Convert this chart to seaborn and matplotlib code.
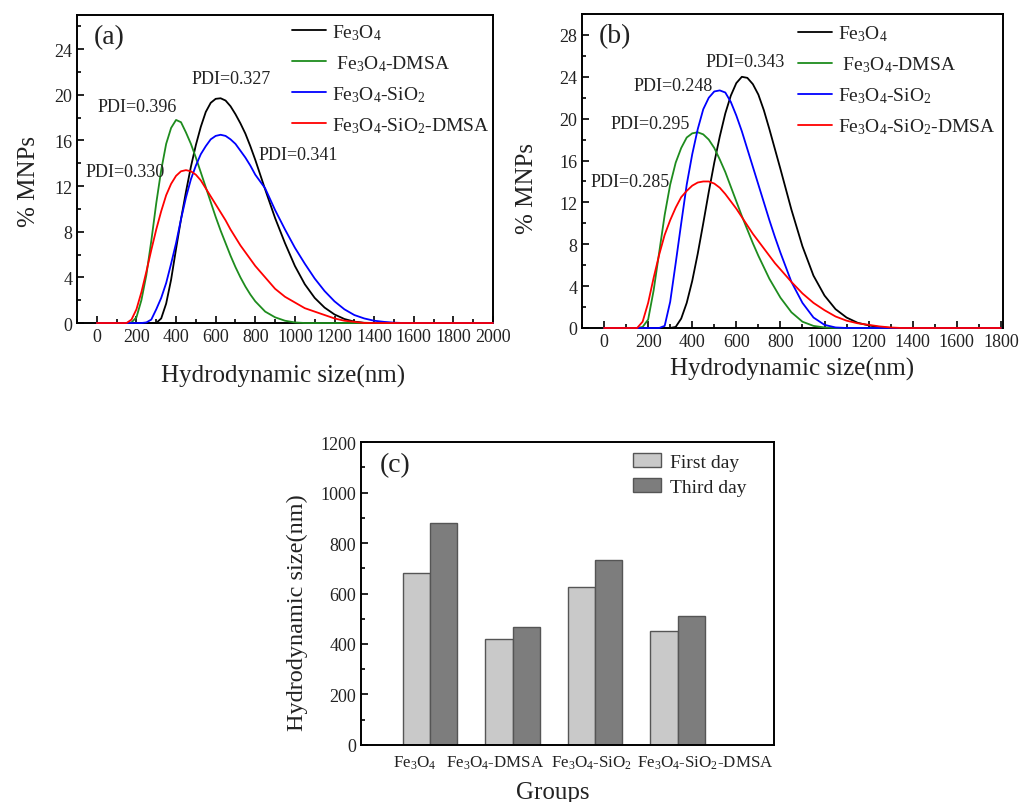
import pandas as pd
import matplotlib
matplotlib.use("Agg")
import matplotlib.pyplot as plt
import matplotlib.transforms as mtransforms
from matplotlib.ticker import MultipleLocator
import seaborn as sns

sns.set_style("ticks")
plt.rcParams["font.family"] = ["Liberation Serif", "DejaVu Serif"]
plt.rcParams["mathtext.default"] = "regular"
plt.rcParams["text.color"] = "#222222"
plt.rcParams["axes.labelcolor"] = "#222222"
plt.rcParams["xtick.color"] = "black"
plt.rcParams["ytick.color"] = "black"
plt.rcParams["xtick.labelcolor"] = "#222222"
plt.rcParams["ytick.labelcolor"] = "#222222"

SAMPLES = ["Fe$_3$O$_4$", " Fe$_3$O$_4$-DMSA", "Fe$_3$O$_4$-SiO$_2$", "Fe$_3$O$_4$-SiO$_2$-DMSA"]
COLORS = ["#000000", "#1e8c1e", "#0000ff", "#ff0000"]

# panel (a): size distributions, first day
X_A = [0, 150, 175, 200, 225, 250, 275, 300,
       325, 350, 375, 400, 425, 450, 475, 500,
       525, 550, 575, 600, 625, 650, 675, 700,
       725, 750, 775, 800,
       850, 900, 950, 1000, 1050, 1100, 1150, 1200,
       1250, 1300, 1350, 1400, 1450, 1500, 1550, 1600,
       2000]
A_FE3O4 = [0, 0, 0, 0, 0, 0, 0, 0,
           0.4, 1.7, 3.8, 6.5, 9.1, 11.5, 13.7, 15.6,
           17.2, 18.5, 19.3, 19.65, 19.7, 19.5, 19.0, 18.3,
           17.5, 16.6, 15.5, 14.3,
           11.7, 9.2, 7.0, 5.0, 3.4, 2.2, 1.35, 0.75,
           0.35, 0.12, 0.02, 0, 0, 0, 0, 0,
           0]
A_DMSA = [0, 0, 0.05, 0.5, 2.0, 4.2, 7.2, 10.5,
          13.4, 15.7, 17.1, 17.8, 17.6, 16.7, 15.7, 14.5,
          13.2, 11.9, 10.6, 9.3, 8.1, 7.0, 5.9, 4.9,
          4.0, 3.2, 2.5, 1.9,
          1.0, 0.5, 0.2, 0.05, 0, 0, 0, 0,
          0, 0, 0, 0, 0, 0, 0, 0,
          0]
A_SIO2 = [0, 0, 0, 0, 0, 0.05, 0.3, 1.2,
          2.2, 3.5, 5.2, 7.0, 9.1, 11.0, 12.6, 13.8,
          14.8, 15.5, 16.1, 16.4, 16.5, 16.4, 16.1, 15.7,
          15.1, 14.5, 13.8, 13.0,
          11.8, 9.9, 8.2, 6.6, 5.2, 3.9, 2.8, 1.9,
          1.2, 0.7, 0.4, 0.2, 0.1, 0.03, 0, 0,
          0]
A_SIO2_DMSA = [0, 0, 0.3, 1.2, 2.7, 4.5, 6.4, 8.2,
               9.8, 11.2, 12.2, 12.9, 13.3, 13.4, 13.3, 13.0,
               12.5, 11.8, 11.1, 10.4, 9.7, 9.0, 8.2, 7.5,
               6.8, 6.2, 5.6, 5.0,
               4.0, 3.0, 2.3, 1.8, 1.3, 1.0, 0.7, 0.4,
               0.2, 0.1, 0, 0, 0, 0, 0, 0,
               0]
PDI_A = ["PDI=0.327", "PDI=0.396", "PDI=0.341", "PDI=0.330"]
PDI_A_POS = [(677, 21.4), (203, 19.0), (1016, 14.8), (141, 13.3)]

# panel (b): size distributions, third day
X_B = [0, 150, 175, 200, 225, 250, 275, 300,
       325, 350, 375, 400, 425, 450, 475, 500,
       525, 550, 575, 600, 625, 650, 675, 700,
       725, 750, 775, 800,
       850, 900, 950, 1000, 1050, 1100, 1150, 1200,
       1250, 1300, 1350, 1400,
       1800]
B_FE3O4 = [0, 0, 0, 0, 0, 0, 0, 0,
           0.1, 0.9, 2.4, 4.5, 7.1, 10.0, 13.0, 15.8,
           18.3, 20.5, 22.2, 23.4, 24.0, 23.9, 23.3, 22.3,
           20.8, 19.0, 17.1, 15.2,
           11.3, 7.8, 5.0, 3.1, 1.8, 1.0, 0.5, 0.25,
           0.08, 0, 0, 0,
           0]
B_DMSA = [0, 0, 0.1, 0.8, 3.6, 7.2, 10.8, 13.7,
          15.8, 17.2, 18.2, 18.6, 18.7, 18.5, 18.0, 17.2,
          16.1, 14.9, 13.5, 12.1, 10.7, 9.4, 8.1, 6.9,
          5.8, 4.7, 3.8, 2.9,
          1.5, 0.6, 0.2, 0.05, 0, 0, 0, 0,
          0, 0, 0, 0,
          0]
B_SIO2 = [0, 0, 0, 0, 0, 0, 0.2, 2.5,
          6.2, 10.0, 13.7, 16.6, 19.0, 20.9, 22.0, 22.6,
          22.7, 22.5, 21.6, 20.3, 18.8, 17.1, 15.4, 13.7,
          12.0, 10.3, 8.7, 7.2,
          4.4, 2.4, 1.0, 0.3, 0.05, 0, 0, 0,
          0, 0, 0, 0,
          0]
B_SIO2_DMSA = [0, 0, 0.6, 2.4, 4.8, 7.0, 8.9, 10.3,
               11.5, 12.5, 13.1, 13.6, 13.9, 14.0, 14.0, 13.8,
               13.4, 12.8, 12.1, 11.4, 10.6, 9.8, 9.0, 8.3,
               7.6, 6.9, 6.2, 5.6,
               4.4, 3.3, 2.4, 1.7, 1.1, 0.7, 0.45, 0.3,
               0.15, 0.05, 0, 0,
               0]
PDI_B = ["PDI=0.343", "PDI=0.248", "PDI=0.295", "PDI=0.285"]
PDI_B_POS = [(639, 25.5), (313, 23.2), (209, 19.5), (118, 14.0)]

# panel (c): mean hydrodynamic size
GROUPS = ["Fe$_3$O$_4$", "Fe$_3$O$_4$-DMSA", "Fe$_3$O$_4$-SiO$_2$", "Fe$_3$O$_4$-SiO$_2$-DMSA"]
DAYS = ["First day", "Third day"]
FIRST_DAY = [680, 420, 625, 452]
THIRD_DAY = [880, 467, 732, 512]


def long_frame(x, series):
    parts = [pd.DataFrame({"size": x, "pct": ys, "sample": name})
             for name, ys in zip(SAMPLES, series)]
    return pd.concat(parts, ignore_index=True)


def style_box(ax):
    for sp in ax.spines.values():
        sp.set_visible(True)
        sp.set_color("black")
        sp.set_linewidth(1.4)
    ax.tick_params(which="both", direction="in", top=False, right=False, width=1.2)
    ax.tick_params(which="major", length=5)
    ax.tick_params(which="minor", length=3)


def dist_panel(ax, df, xmax, ytop, ymajor_max, pdi, pdi_pos, tag, leg_xy, ylab_xy, xlab_xy):
    pal = dict(zip(SAMPLES, COLORS))
    sns.lineplot(data=df, x="size", y="pct", hue="sample", hue_order=SAMPLES,
                 palette=pal, linewidth=1.3, errorbar=None, zorder=3, clip_on=False, ax=ax)
    ax.set_xlim(-100, xmax)
    ax.set_ylim(0, ytop)
    ax.set_xticks(list(range(0, int(xmax) + 1, 200)))
    ax.set_yticks(list(range(0, ymajor_max + 1, 4)))
    ax.xaxis.set_minor_locator(MultipleLocator(100))
    ax.yaxis.set_minor_locator(MultipleLocator(2))
    ax.tick_params(labelsize=13)
    style_box(ax)
    ax.set_xlabel("Hydrodynamic size(nm)", fontsize=18)
    ax.set_ylabel("% MNPs", fontsize=18)
    ax.yaxis.set_label_coords(*ylab_xy)
    ax.xaxis.set_label_coords(*xlab_xy)
    for txt, (x, y) in zip(pdi, pdi_pos):
        ax.text(x, y, txt, fontsize=13, ha="center", va="center")
    ax.text(0.04, 0.93, tag, transform=ax.transAxes, fontsize=20, va="center")
    handles, labels = ax.get_legend_handles_labels()
    ax.legend(handles, labels, loc="upper left", bbox_to_anchor=leg_xy, frameon=False,
              fontsize=14, handlelength=1.75, handletextpad=0.3, labelspacing=0.58,
              borderaxespad=0, borderpad=0)


fig = plt.figure(figsize=(10.27, 8.03), dpi=100)

ax_a = fig.add_axes([0.075, 0.5965, 0.405, 0.3836])
df_a = long_frame(X_A, [A_FE3O4, A_DMSA, A_SIO2, A_SIO2_DMSA])
dist_panel(ax_a, df_a, 2000, 27, 24, PDI_A, PDI_A_POS, "(a)", (0.517, 0.977),
           (-0.089, 0.464), (0.495, -0.133))

ax_b = fig.add_axes([0.5667, 0.5903, 0.41, 0.391])
df_b = long_frame(X_B, [B_FE3O4, B_DMSA, B_SIO2, B_SIO2_DMSA])
dist_panel(ax_b, df_b, 1810, 30, 28, PDI_B, PDI_B_POS, "(b)", (0.513, 0.969),
           (-0.104, 0.449), (0.499, -0.092))

ax_c = fig.add_axes([0.3515, 0.071, 0.4021, 0.3773])
df_c = pd.DataFrame({
    "group": GROUPS * 2,
    "day": [DAYS[0]] * 4 + [DAYS[1]] * 4,
    "value": FIRST_DAY + THIRD_DAY,
})
sns.barplot(data=df_c, x="group", y="value", hue="day", order=GROUPS, hue_order=DAYS,
            palette={"First day": "#c9c9c9", "Third day": "#7d7d7d"}, saturation=1,
            width=0.66, gap=0, edgecolor="#555555", linewidth=1.0, errorbar=None, ax=ax_c)
ax_c.set_xlim(-0.84, 4.17)
ax_c.set_ylim(0, 1200)
ax_c.yaxis.set_major_locator(MultipleLocator(200))
ax_c.yaxis.set_minor_locator(MultipleLocator(100))
style_box(ax_c)
ax_c.tick_params(axis="x", which="both", length=0, labelsize=12.2, pad=6)
ax_c.tick_params(axis="y", labelsize=13)
# category labels sit slightly off the group centres in the original
for lab, dx in zip(ax_c.get_xticklabels(), [-16, -18, -3, 28]):
    lab.set_transform(lab.get_transform() + mtransforms.ScaledTranslation(dx / 100, 0, fig.dpi_scale_trans))
ax_c.set_xlabel("Groups", fontsize=18)
ax_c.set_ylabel("Hydrodynamic size(nm)", fontsize=17.5)
ax_c.xaxis.set_label_coords(0.465, -0.119)
ax_c.yaxis.set_label_coords(-0.128, 0.44)
ax_c.text(0.045, 0.925, "(c)", transform=ax_c.transAxes, fontsize=20, va="center")
ax_c.legend(loc="upper left", bbox_to_anchor=(0.659, 0.965), frameon=False, fontsize=14,
            handlelength=1.45, handleheight=0.8, handletextpad=0.45, labelspacing=0.35,
            borderaxespad=0, borderpad=0)

fig.savefig("out.png", dpi=100)
